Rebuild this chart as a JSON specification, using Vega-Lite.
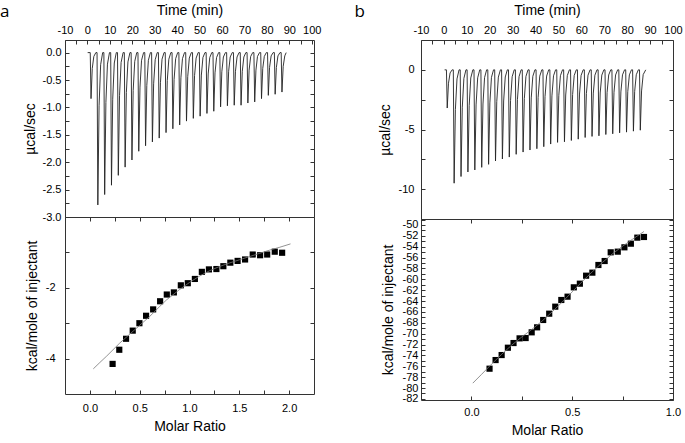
{
  "$schema": "https://vega.github.io/schema/vega-lite/v6.json",
  "padding": {"left": 0, "top": 2, "right": 0, "bottom": 0},
  "spacing": 32,
  "config": {
    "view": {"stroke": "#333", "strokeWidth": 1},
    "axis": {"domain": false, "grid": false, "labelFont": "Liberation Sans", "titleFont": "Liberation Sans", "labelFontSize": 11, "titleFontSize": 14, "titleFontWeight": "normal", "labelColor": "#000", "titleColor": "#000", "tickColor": "#333", "tickSize": -4, "labelOverlap": false, "labelFlush": false, "labelBound": false}
  },
  "datasets": {
    "thermoA": [
      {"t":0.1,"p":0},
      {"t":1.25,"p":0},{"t":1.6,"p":-0.84},{"t":2.15,"p":-0.29},{"t":2.85,"p":-0.07},{"t":3.75,"p":0},
      {"t":4.29,"p":0},{"t":4.64,"p":-2.78},{"t":5.19,"p":-0.97},{"t":5.89,"p":-0.22},{"t":6.79,"p":0},
      {"t":7.33,"p":0},{"t":7.68,"p":-2.59},{"t":8.23,"p":-0.91},{"t":8.93,"p":-0.21},{"t":9.83,"p":0},
      {"t":10.37,"p":0},{"t":10.72,"p":-2.42},{"t":11.27,"p":-0.85},{"t":11.97,"p":-0.19},{"t":12.87,"p":0},
      {"t":13.41,"p":0},{"t":13.76,"p":-2.24},{"t":14.31,"p":-0.78},{"t":15.01,"p":-0.18},{"t":15.91,"p":0},
      {"t":16.45,"p":0},{"t":16.8,"p":-2.09},{"t":17.35,"p":-0.73},{"t":18.05,"p":-0.17},{"t":18.95,"p":0},
      {"t":19.49,"p":0},{"t":19.84,"p":-1.96},{"t":20.39,"p":-0.69},{"t":21.09,"p":-0.16},{"t":21.99,"p":0},
      {"t":22.53,"p":0},{"t":22.88,"p":-1.8},{"t":23.43,"p":-0.63},{"t":24.13,"p":-0.14},{"t":25.03,"p":0},
      {"t":25.57,"p":0},{"t":25.92,"p":-1.7},{"t":26.47,"p":-0.6},{"t":27.17,"p":-0.14},{"t":28.07,"p":0},
      {"t":28.61,"p":0},{"t":28.96,"p":-1.63},{"t":29.51,"p":-0.57},{"t":30.21,"p":-0.13},{"t":31.11,"p":0},
      {"t":31.65,"p":0},{"t":32.0,"p":-1.56},{"t":32.55,"p":-0.55},{"t":33.25,"p":-0.12},{"t":34.15,"p":0},
      {"t":34.69,"p":0},{"t":35.04,"p":-1.46},{"t":35.59,"p":-0.51},{"t":36.29,"p":-0.12},{"t":37.19,"p":0},
      {"t":37.73,"p":0},{"t":38.08,"p":-1.39},{"t":38.63,"p":-0.49},{"t":39.33,"p":-0.11},{"t":40.23,"p":0},
      {"t":40.77,"p":0},{"t":41.12,"p":-1.32},{"t":41.67,"p":-0.46},{"t":42.37,"p":-0.11},{"t":43.27,"p":0},
      {"t":43.81,"p":0},{"t":44.16,"p":-1.25},{"t":44.71,"p":-0.44},{"t":45.41,"p":-0.1},{"t":46.31,"p":0},
      {"t":46.85,"p":0},{"t":47.2,"p":-1.2},{"t":47.75,"p":-0.42},{"t":48.45,"p":-0.1},{"t":49.35,"p":0},
      {"t":49.89,"p":0},{"t":50.24,"p":-1.16},{"t":50.79,"p":-0.41},{"t":51.49,"p":-0.09},{"t":52.39,"p":0},
      {"t":52.93,"p":0},{"t":53.28,"p":-1.11},{"t":53.83,"p":-0.39},{"t":54.53,"p":-0.09},{"t":55.43,"p":0},
      {"t":55.97,"p":0},{"t":56.32,"p":-1.07},{"t":56.87,"p":-0.37},{"t":57.57,"p":-0.09},{"t":58.47,"p":0},
      {"t":59.01,"p":0},{"t":59.36,"p":-0.99},{"t":59.91,"p":-0.35},{"t":60.61,"p":-0.08},{"t":61.51,"p":0},
      {"t":62.05,"p":0},{"t":62.4,"p":-0.97},{"t":62.95,"p":-0.34},{"t":63.65,"p":-0.08},{"t":64.55,"p":0},
      {"t":65.09,"p":0},{"t":65.44,"p":-0.96},{"t":65.99,"p":-0.34},{"t":66.69,"p":-0.08},{"t":67.59,"p":0},
      {"t":68.13,"p":0},{"t":68.48,"p":-0.96},{"t":69.03,"p":-0.34},{"t":69.73,"p":-0.08},{"t":70.63,"p":0},
      {"t":71.17,"p":0},{"t":71.52,"p":-0.92},{"t":72.07,"p":-0.32},{"t":72.77,"p":-0.07},{"t":73.67,"p":0},
      {"t":74.21,"p":0},{"t":74.56,"p":-0.9},{"t":75.11,"p":-0.32},{"t":75.81,"p":-0.07},{"t":76.71,"p":0},
      {"t":77.25,"p":0},{"t":77.6,"p":-0.84},{"t":78.15,"p":-0.29},{"t":78.85,"p":-0.07},{"t":79.75,"p":0},
      {"t":80.29,"p":0},{"t":80.64,"p":-0.78},{"t":81.19,"p":-0.27},{"t":81.89,"p":-0.06},{"t":82.79,"p":0},
      {"t":83.33,"p":0},{"t":83.68,"p":-0.76},{"t":84.23,"p":-0.27},{"t":84.93,"p":-0.06},{"t":85.83,"p":0},
      {"t":86.37,"p":0},{"t":86.72,"p":-0.72},{"t":87.27,"p":-0.25},{"t":87.97,"p":-0.06},{"t":88.6,"p":0}
    ],
    "thermoB": [
      {"t":0.3,"p":0},
      {"t":1.1,"p":0},{"t":1.45,"p":-3.2},{"t":2.0,"p":-1.12},{"t":2.7,"p":-0.26},{"t":3.6,"p":0},
      {"t":4.11,"p":0},{"t":4.46,"p":-9.5},{"t":5.01,"p":-3.33},{"t":5.71,"p":-0.76},{"t":6.61,"p":0},
      {"t":7.12,"p":0},{"t":7.47,"p":-8.94},{"t":8.02,"p":-3.13},{"t":8.72,"p":-0.72},{"t":9.62,"p":0},
      {"t":10.13,"p":0},{"t":10.48,"p":-8.56},{"t":11.03,"p":-3.0},{"t":11.73,"p":-0.68},{"t":12.63,"p":0},
      {"t":13.14,"p":0},{"t":13.49,"p":-8.39},{"t":14.04,"p":-2.94},{"t":14.74,"p":-0.67},{"t":15.64,"p":0},
      {"t":16.15,"p":0},{"t":16.5,"p":-8.17},{"t":17.05,"p":-2.86},{"t":17.75,"p":-0.65},{"t":18.65,"p":0},
      {"t":19.16,"p":0},{"t":19.51,"p":-7.92},{"t":20.06,"p":-2.77},{"t":20.76,"p":-0.63},{"t":21.66,"p":0},
      {"t":22.17,"p":0},{"t":22.52,"p":-7.64},{"t":23.07,"p":-2.67},{"t":23.77,"p":-0.61},{"t":24.67,"p":0},
      {"t":25.18,"p":0},{"t":25.53,"p":-7.47},{"t":26.08,"p":-2.61},{"t":26.78,"p":-0.6},{"t":27.68,"p":0},
      {"t":28.19,"p":0},{"t":28.54,"p":-7.31},{"t":29.09,"p":-2.56},{"t":29.79,"p":-0.58},{"t":30.69,"p":0},
      {"t":31.2,"p":0},{"t":31.55,"p":-7.08},{"t":32.1,"p":-2.48},{"t":32.8,"p":-0.57},{"t":33.7,"p":0},
      {"t":34.21,"p":0},{"t":34.56,"p":-6.89},{"t":35.11,"p":-2.41},{"t":35.81,"p":-0.55},{"t":36.71,"p":0},
      {"t":37.22,"p":0},{"t":37.57,"p":-6.72},{"t":38.12,"p":-2.35},{"t":38.82,"p":-0.54},{"t":39.72,"p":0},
      {"t":40.23,"p":0},{"t":40.58,"p":-6.61},{"t":41.13,"p":-2.31},{"t":41.83,"p":-0.53},{"t":42.73,"p":0},
      {"t":43.24,"p":0},{"t":43.59,"p":-6.44},{"t":44.14,"p":-2.25},{"t":44.84,"p":-0.52},{"t":45.74,"p":0},
      {"t":46.25,"p":0},{"t":46.6,"p":-6.22},{"t":47.15,"p":-2.18},{"t":47.85,"p":-0.5},{"t":48.75,"p":0},
      {"t":49.26,"p":0},{"t":49.61,"p":-6.08},{"t":50.16,"p":-2.13},{"t":50.86,"p":-0.49},{"t":51.76,"p":0},
      {"t":52.27,"p":0},{"t":52.62,"p":-6.03},{"t":53.17,"p":-2.11},{"t":53.87,"p":-0.48},{"t":54.77,"p":0},
      {"t":55.28,"p":0},{"t":55.63,"p":-5.92},{"t":56.18,"p":-2.07},{"t":56.88,"p":-0.47},{"t":57.78,"p":0},
      {"t":58.29,"p":0},{"t":58.64,"p":-5.81},{"t":59.19,"p":-2.03},{"t":59.89,"p":-0.46},{"t":60.79,"p":0},
      {"t":61.3,"p":0},{"t":61.65,"p":-5.67},{"t":62.2,"p":-1.98},{"t":62.9,"p":-0.45},{"t":63.8,"p":0},
      {"t":64.31,"p":0},{"t":64.66,"p":-5.58},{"t":65.21,"p":-1.95},{"t":65.91,"p":-0.45},{"t":66.81,"p":0},
      {"t":67.32,"p":0},{"t":67.67,"p":-5.53},{"t":68.22,"p":-1.94},{"t":68.92,"p":-0.44},{"t":69.82,"p":0},
      {"t":70.33,"p":0},{"t":70.68,"p":-5.42},{"t":71.23,"p":-1.9},{"t":71.93,"p":-0.43},{"t":72.83,"p":0},
      {"t":73.34,"p":0},{"t":73.69,"p":-5.36},{"t":74.24,"p":-1.88},{"t":74.94,"p":-0.43},{"t":75.84,"p":0},
      {"t":76.35,"p":0},{"t":76.7,"p":-5.28},{"t":77.25,"p":-1.85},{"t":77.95,"p":-0.42},{"t":78.85,"p":0},
      {"t":79.36,"p":0},{"t":79.71,"p":-5.22},{"t":80.26,"p":-1.83},{"t":80.96,"p":-0.42},{"t":81.86,"p":0},
      {"t":82.37,"p":0},{"t":82.72,"p":-5.14},{"t":83.27,"p":-1.8},{"t":83.97,"p":-0.41},{"t":84.87,"p":0},
      {"t":85.38,"p":0},{"t":85.73,"p":-5.06},{"t":86.28,"p":-1.77},{"t":86.98,"p":-0.4},{"t":88.1,"p":0}
    ],
    "ptsA": [
      {"x":0.228,"y":-4.15},{"x":0.295,"y":-3.75},{"x":0.363,"y":-3.44},{"x":0.43,"y":-3.21},{"x":0.497,"y":-3.0},
      {"x":0.564,"y":-2.79},{"x":0.635,"y":-2.61},{"x":0.705,"y":-2.38},{"x":0.772,"y":-2.19},{"x":0.843,"y":-2.13},
      {"x":0.913,"y":-1.93},{"x":0.983,"y":-1.87},{"x":1.054,"y":-1.75},{"x":1.124,"y":-1.55},{"x":1.195,"y":-1.48},
      {"x":1.27,"y":-1.47},{"x":1.34,"y":-1.39},{"x":1.41,"y":-1.29},{"x":1.483,"y":-1.24},{"x":1.558,"y":-1.2},
      {"x":1.635,"y":-1.06},{"x":1.709,"y":-1.08},{"x":1.78,"y":-1.06},{"x":1.856,"y":-0.98},{"x":1.93,"y":-1.01}
    ],
    "fitA": [
      {"x":0.034,"y":-4.29},{"x":0.1,"y":-4.11},{"x":0.168,"y":-3.93},{"x":0.3,"y":-3.56},{"x":0.4,"y":-3.31},
      {"x":0.5,"y":-3.06},{"x":0.6,"y":-2.81},{"x":0.7,"y":-2.53},{"x":0.77,"y":-2.34},{"x":0.9,"y":-2.05},
      {"x":1.0,"y":-1.85},{"x":1.1,"y":-1.67},{"x":1.2,"y":-1.52},{"x":1.3,"y":-1.4},{"x":1.4,"y":-1.3},
      {"x":1.5,"y":-1.21},{"x":1.6,"y":-1.12},{"x":1.7,"y":-1.03},{"x":1.8,"y":-0.94},{"x":1.9,"y":-0.86},
      {"x":2.014,"y":-0.76}
    ],
    "ptsB": [
      {"x":0.09,"y":-76.44},{"x":0.12,"y":-74.85},{"x":0.15,"y":-73.93},{"x":0.181,"y":-72.58},{"x":0.209,"y":-71.72},
      {"x":0.239,"y":-70.86},{"x":0.269,"y":-70.8},{"x":0.299,"y":-69.75},{"x":0.326,"y":-68.83},{"x":0.356,"y":-67.48},
      {"x":0.386,"y":-66.32},{"x":0.416,"y":-65.03},{"x":0.446,"y":-63.8},{"x":0.477,"y":-63.19},{"x":0.508,"y":-61.47},
      {"x":0.538,"y":-60.8},{"x":0.569,"y":-59.33},{"x":0.6,"y":-58.77},{"x":0.63,"y":-57.36},{"x":0.661,"y":-56.63},
      {"x":0.691,"y":-55.03},{"x":0.726,"y":-54.91},{"x":0.759,"y":-54.11},{"x":0.791,"y":-53.44},{"x":0.823,"y":-52.33},
      {"x":0.856,"y":-52.21}
    ],
    "fitB": [
      {"x":0.007,"y":-79.1},{"x":0.05,"y":-77.5},{"x":0.1,"y":-75.6},{"x":0.15,"y":-73.8},{"x":0.2,"y":-72.1},
      {"x":0.25,"y":-70.6},{"x":0.3,"y":-69.2},{"x":0.35,"y":-67.7},{"x":0.4,"y":-66.0},{"x":0.45,"y":-64.2},
      {"x":0.5,"y":-62.3},{"x":0.55,"y":-60.4},{"x":0.6,"y":-58.6},{"x":0.65,"y":-56.9},{"x":0.7,"y":-55.3},
      {"x":0.75,"y":-53.9},{"x":0.8,"y":-52.6},{"x":0.856,"y":-51.2}
    ]
  },
  "hconcat": [
    {
      "title": {"text": "a", "anchor": "start", "font": "Open Sans", "fontSize": 17, "fontWeight": "normal", "color": "#000", "dx": -22.5, "dy": 18, "offset": 0},
      "spacing": 0,
      "bounds": "flush",
      "vconcat": [
        {
          "width": 249, "height": 177,
          "data": {"name": "thermoA"},
          "resolve": {"axis": {"x": "independent", "y": "independent"}},
          "layer": [
            {
              "mark": {"type": "line", "color": "#222", "strokeWidth": 0.9},
              "encoding": {
                "x": {"field": "t", "type": "quantitative", "scale": {"domain": [-10, 101], "nice": false, "zero": false},
                  "axis": {"orient": "top", "title": "Time (min)", "format": "d", "values": [-10,-5,0,5,10,15,20,25,30,35,40,45,50,55,60,65,70,75,80,85,90,95,100], "labelExpr": "datum.value % 10 == 0 ? replace(datum.label, '\u2212', '-') : ''", "labelPadding": 9, "titlePadding": 7}},
                "y": {"field": "p", "type": "quantitative", "scale": {"domain": [-3.0, 0.23], "nice": false, "zero": false},
                  "axis": {"orient": "left", "title": "µcal/sec", "format": ".1f", "values": [-3,-2.75,-2.5,-2.25,-2,-1.75,-1.5,-1.25,-1,-0.75,-0.5,-0.25,0], "labelExpr": "datum.value % 0.5 == 0 ? replace(datum.label, '\u2212', '-') : ''", "labelPadding": 8, "titlePadding": 5}}
              }
            },
            {
              "mark": {"type": "line", "opacity": 0},
              "encoding": {
                "x": {"field": "t", "type": "quantitative", "axis": null},
                "y": {"field": "p", "type": "quantitative", "axis": {"orient": "right", "labels": false, "title": null, "values": [-2.75,-2.5,-2.25,-2,-1.75,-1.5,-1.25,-1,-0.75,-0.5,-0.25,0]}}
              }
            }
          ]
        },
        {
          "width": 249, "height": 177,
          "resolve": {"axis": {"x": "independent", "y": "independent"}},
          "layer": [
            {
              "data": {"name": "ptsA"},
              "mark": {"type": "point", "shape": "square", "filled": true, "color": "#000", "opacity": 1, "size": 38},
              "encoding": {
                "x": {"field": "x", "type": "quantitative", "scale": {"domain": [-0.25, 2.25], "nice": false, "zero": false},
                  "axis": {"orient": "bottom", "title": "Molar Ratio", "format": ".1f", "values": [0,0.25,0.5,0.75,1,1.25,1.5,1.75,2], "labelExpr": "datum.value % 0.5 == 0 ? replace(datum.label, '\u2212', '-') : ''", "labelPadding": 12.5, "titlePadding": 6}},
                "y": {"field": "y", "type": "quantitative", "scale": {"domain": [-5, 0], "nice": false, "zero": false},
                  "axis": {"orient": "left", "title": "kcal/mole of injectant", "format": "d", "values": [-4,-3,-2,-1], "labelExpr": "datum.value == -2 || datum.value == -4 ? replace(datum.label, '\u2212', '-') : ''", "labelPadding": 14, "titlePadding": 6}}
              }
            },
            {
              "data": {"name": "fitA"},
              "mark": {"type": "line", "color": "#777", "strokeWidth": 0.8},
              "encoding": {
                "x": {"field": "x", "type": "quantitative", "axis": {"orient": "top", "labels": false, "title": null, "values": [0,0.25,0.5,0.75,1,1.25,1.5,1.75,2]}},
                "y": {"field": "y", "type": "quantitative", "axis": {"orient": "right", "labels": false, "title": null, "values": [-4,-3,-2,-1]}}
              }
            }
          ]
        }
      ]
    },
    {
      "title": {"text": "b", "anchor": "start", "font": "Open Sans", "fontSize": 17, "fontWeight": "normal", "color": "#000", "dx": -23, "dy": 18, "offset": 0},
      "spacing": 0,
      "bounds": "flush",
      "vconcat": [
        {
          "width": 252, "height": 179,
          "data": {"name": "thermoB"},
          "resolve": {"axis": {"x": "independent", "y": "independent"}},
          "layer": [
            {
              "mark": {"type": "line", "color": "#222", "strokeWidth": 0.9},
              "encoding": {
                "x": {"field": "t", "type": "quantitative", "scale": {"domain": [-10, 100], "nice": false, "zero": false},
                  "axis": {"orient": "top", "title": "Time (min)", "format": "d", "values": [-10,-5,0,5,10,15,20,25,30,35,40,45,50,55,60,65,70,75,80,85,90,95,100], "labelExpr": "datum.value % 10 == 0 ? replace(datum.label, '\u2212', '-') : ''", "labelPadding": 9, "titlePadding": 7}},
                "y": {"field": "p", "type": "quantitative", "scale": {"domain": [-12.5, 2.5], "nice": false, "zero": false},
                  "axis": {"orient": "left", "title": "µcal/sec", "format": "d", "values": [-10,-7.5,-5,-2.5,0], "labelExpr": "datum.value % 5 == 0 ? replace(datum.label, '\u2212', '-') : ''", "labelPadding": 11, "titlePadding": 6}}
              }
            },
            {
              "mark": {"type": "line", "opacity": 0},
              "encoding": {
                "x": {"field": "t", "type": "quantitative", "axis": null},
                "y": {"field": "p", "type": "quantitative", "axis": {"orient": "right", "labels": false, "title": null, "values": [-10,-7.5,-5,-2.5,0]}}
              }
            }
          ]
        },
        {
          "width": 252, "height": 181,
          "resolve": {"axis": {"x": "independent", "y": "independent"}},
          "layer": [
            {
              "data": {"name": "ptsB"},
              "mark": {"type": "point", "shape": "square", "filled": true, "color": "#000", "opacity": 1, "size": 38},
              "encoding": {
                "x": {"field": "x", "type": "quantitative", "scale": {"domain": [-0.25, 1.0], "nice": false, "zero": false},
                  "axis": {"orient": "bottom", "title": "Molar Ratio", "format": ".1f", "values": [0,0.25,0.5,0.75,1], "labelExpr": "datum.value % 0.5 == 0 ? replace(datum.label, '\u2212', '-') : ''", "labelPadding": 10.5, "titlePadding": 6}},
                "y": {"field": "y", "type": "quantitative", "scale": {"domain": [-82.2, -48.9], "nice": false, "zero": false},
                  "axis": {"orient": "left", "title": "kcal/mole of injectant", "format": "d", "values": [-82,-81,-80,-79,-78,-77,-76,-75,-74,-73,-72,-71,-70,-69,-68,-67,-66,-65,-64,-63,-62,-61,-60,-59,-58,-57,-56,-55,-54,-53,-52,-51,-50,-49], "labelExpr": "datum.value % 2 == 0 ? replace(datum.label, '\u2212', '-') : ''", "labelPadding": 7, "titlePadding": 7}}
              }
            },
            {
              "data": {"name": "fitB"},
              "mark": {"type": "line", "color": "#777", "strokeWidth": 0.8},
              "encoding": {
                "x": {"field": "x", "type": "quantitative", "axis": {"orient": "top", "labels": false, "title": null, "values": [0,0.25,0.5,0.75]}},
                "y": {"field": "y", "type": "quantitative", "axis": {"orient": "right", "labels": false, "title": null, "values": [-82,-81,-80,-79,-78,-77,-76,-75,-74,-73,-72,-71,-70,-69,-68,-67,-66,-65,-64,-63,-62,-61,-60,-59,-58,-57,-56,-55,-54,-53,-52,-51,-50,-49]}}
              }
            }
          ]
        }
      ]
    }
  ]
}
